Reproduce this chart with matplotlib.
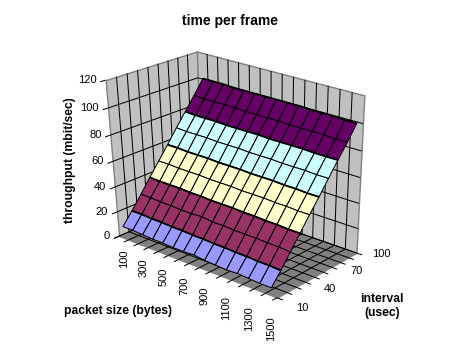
import numpy as np
import matplotlib
matplotlib.use('Agg')
import matplotlib.pyplot as plt
from mpl_toolkits.mplot3d import art3d

packet_sizes = [100, 200, 300, 400, 500, 600, 700, 800, 900, 1000, 1100, 1200, 1300, 1400, 1500]
intervals = [10, 20, 30, 40, 50, 60, 70, 80, 90, 100]
throughput = [
    [9.5, 9.5, 9, 8.5, 8.5, 8, 8, 8.5, 7.5, 7, 6.5, 7, 6.5, 6, 6],
    [19, 19, 18.5, 18.5, 18, 18, 17.5, 17.5, 17, 17, 16.5, 16.5, 16, 16, 15.5],
    [29, 29, 28.5, 28.5, 28, 28, 28.5, 27.5, 27.5, 27, 27, 27, 26.5, 26.5, 26],
    [39.5, 39, 39, 39, 38.5, 38.5, 38, 38, 38, 37.5, 37.5, 37, 37, 36.5, 36.5],
    [49.5, 49.5, 49, 49, 49, 48.5, 48.5, 48.5, 48, 48, 48, 47.5, 47.5, 47, 47],
    [59.5, 59.5, 59, 59, 59, 58.5, 58.5, 58.5, 58, 58, 58, 57.5, 57.5, 57, 57],
    [70, 69.5, 69.5, 69.5, 69, 69, 69, 68.5, 68.5, 68.5, 68, 68, 68, 67.5, 67.5],
    [80, 79.5, 79.5, 79.5, 79, 79, 79, 79, 78.5, 78.5, 78.5, 78.5, 78, 78, 78],
    [90, 89.5, 89.5, 89.5, 89.5, 89, 89, 89, 89, 88.5, 88.5, 88.5, 88.5, 88, 88],
    [100.5, 100.5, 100.5, 100, 100, 100, 100, 100, 100, 100, 99.5, 99.5, 99.5, 99, 99],
]
z_ticks = [0, 20, 40, 60, 80, 100, 120]
packet_labels = [100, 300, 500, 700, 900, 1100, 1300, 1500]
interval_labels = [10, 40, 70, 100]
band_colors = ['#9999FF', '#993366', '#FFFFCC', '#CCFFFF', '#660066', '#FF8080']

W, H = 461, 360
fig = plt.figure(figsize=(W / 100, H / 100), dpi=100)
ax = fig.add_axes([0, -(W - H) / 2 / H, 1, W / H], projection='3d', computed_zorder=False)
ax.set_axis_off()
ax.apply_aspect()

# packet sizes sit mid-slot on the floor, intervals sit on the grid lines
packet_edges = [p - 50 for p in packet_sizes] + [packet_sizes[-1] + 50]
p0, p1 = packet_edges[0], packet_edges[-1]
i0, i1 = intervals[0], intervals[-1]
z0, z1 = z_ticks[0], z_ticks[-1]

# excel's camera: fit a projection to where the box corners sit on the image
box_pts = [(0, 0, 0), (0, 0, 1), (0, 1, 1), (0, 1, 0), (1, 1, 0), (1, 1, 1), (1, 0, 0)]
img_pts = [(117, 235), (107, 81), (195, 51), (205, 200), (355, 253), (365, 95), (278, 298)]
rows = []
for (u, v, w), (px, py) in zip(box_pts, img_pts):
    px, py = px / 400, py / 400
    rows.append([u, v, w, 1, 0, 0, 0, 0, -px * u, -px * v, -px * w, -px])
    rows.append([0, 0, 0, 0, u, v, w, 1, -py * u, -py * v, -py * w, -py])
cam = np.linalg.svd(np.array(rows))[2][-1].reshape(3, 4)
if cam[2, 3] < 0:
    cam = -cam
cam[:2] *= 400
norm = np.array([[1 / (p1 - p0), 0, 0, -p0 / (p1 - p0)],
                 [0, 1 / (i1 - i0), 0, -i0 / (i1 - i0)],
                 [0, 0, 1 / z1, 0],
                 [0, 0, 0, 1]])
cam = cam @ norm

inv = ax.transData.inverted()
o = inv.transform((0, 0))
s = inv.transform((1, 1)) - o
row_x = s[0] * cam[0] + o[0] * cam[2]
row_y = s[1] * (H * cam[2] - cam[1]) + o[1] * cam[2]
row_d = cam[2] - np.array([0, 0, 0, 0.5 * cam[2, 3]])
M = np.array([row_x, row_y, row_d, cam[2]])
ax.get_proj = lambda: M


def to_px(p, i, z):
    h = cam @ np.array([p, i, z, 1.0])
    return h[0] / h[2], h[1] / h[2]


def lines(segs, lw=0.72, color='k', zorder=2):
    ax.add_collection3d(art3d.Line3DCollection(segs, colors=color, linewidths=lw, zorder=zorder))


# walls and floor
wall_y, wall_z = np.meshgrid([i0, i1], [z0, z1])
ax.plot_surface(np.full_like(wall_y, p0), wall_y, wall_z, color='#C0C0C0', shade=False,
                edgecolor='#808080', lw=1.0, zorder=1)
wall_x, wall_z = np.meshgrid([p0, p1], [z0, z1])
ax.plot_surface(wall_x, np.full_like(wall_x, i1), wall_z, color='#C0C0C0', shade=False,
                edgecolor='#808080', lw=1.0, zorder=1)
floor_x, floor_y = np.meshgrid([p0, p1], [i0, i1])
ax.plot_surface(floor_x, floor_y, np.zeros_like(floor_x), color='#808080', shade=False,
                edgecolor='#808080', lw=0.8, zorder=1)

# grid lines, the outer edge of walls and floor stays grey
grid = []
for z in z_ticks:
    if z != z1:
        grid.append([(p0, i0, z), (p0, i1, z)])
        grid.append([(p0, i1, z), (p1, i1, z)])
    grid.append([(p0, i0, z), (p0, i0 - 5, z)])
for i in intervals:
    if i not in (i0, i1):
        grid.append([(p0, i, z0), (p0, i, z1)])
    if i != i0:
        grid.append([(p0, i, 0), (p1, i, 0)])
    grid.append([(p1, i, 0), (p1 + 50, i, 0)])
for p in packet_edges:
    if p not in (p0, p1):
        grid.append([(p, i1, z0), (p, i1, z1)])
    if p != p1:
        grid.append([(p, i0, 0), (p, i1, 0)])
    grid.append([(p, i0, 0), (p, i0 - 5, 0)])
lines(grid)

# surface, one colour band per 20 mbit/sec
xx, yy = np.meshgrid(packet_sizes, intervals)
zz = np.array(throughput, dtype=float)
mean_z = (zz[:-1, :-1] + zz[1:, :-1] + zz[:-1, 1:] + zz[1:, 1:]) / 4
face = np.empty(zz.shape, dtype=object)
face[:] = band_colors[0]
for r in range(mean_z.shape[0]):
    for c in range(mean_z.shape[1]):
        face[r, c] = band_colors[int(mean_z[r, c] // 20)]
ax.plot_surface(xx, yy, zz, rstride=1, cstride=1, facecolors=face, shade=False,
                edgecolor='k', lw=0.72, zorder=3)
# band boundaries read heavier
bands = []
for r, i in enumerate(intervals):
    if i % 20 == 0:
        pts = list(zip(packet_sizes, [i] * len(packet_sizes), zz[r]))
        bands += [[a, b] for a, b in zip(pts[:-1], pts[1:])]
lines(bands, lw=1.3, zorder=4)


def label(px, py, txt, size=8.7, weight='bold', **kw):
    kw.setdefault('ha', 'center')
    kw.setdefault('va', 'center')
    fig.text(px / W, 1 - py / H, txt, fontsize=size, fontweight=weight,
             family='Liberation Sans', **kw)


for z in z_ticks:
    x, y = to_px(p0, i0, z)
    label(x - 9, y, str(z), size=8, weight='normal', ha='right')
for p in packet_labels:
    x, y = to_px(p, i0, 0)
    label(x, y + 11 + 10 * (p - packet_sizes[0]) / (packet_sizes[-1] - packet_sizes[0]), str(p),
          size=8, weight='normal', rotation=90, va='top')
for i in interval_labels:
    x, y = to_px(p1, i, 0)
    label(x + 25, y + 10 - 9 * (i - i0) / (i1 - i0), str(i), size=8, weight='normal')

label(230, 21, 'time per frame', size=10)
label(70, 160, 'throughput (mbit/sec)', rotation=90)
label(118, 311, 'packet size (bytes)')
label(382, 306, 'interval\n(usec)')

fig.savefig('out.png', dpi=100)
